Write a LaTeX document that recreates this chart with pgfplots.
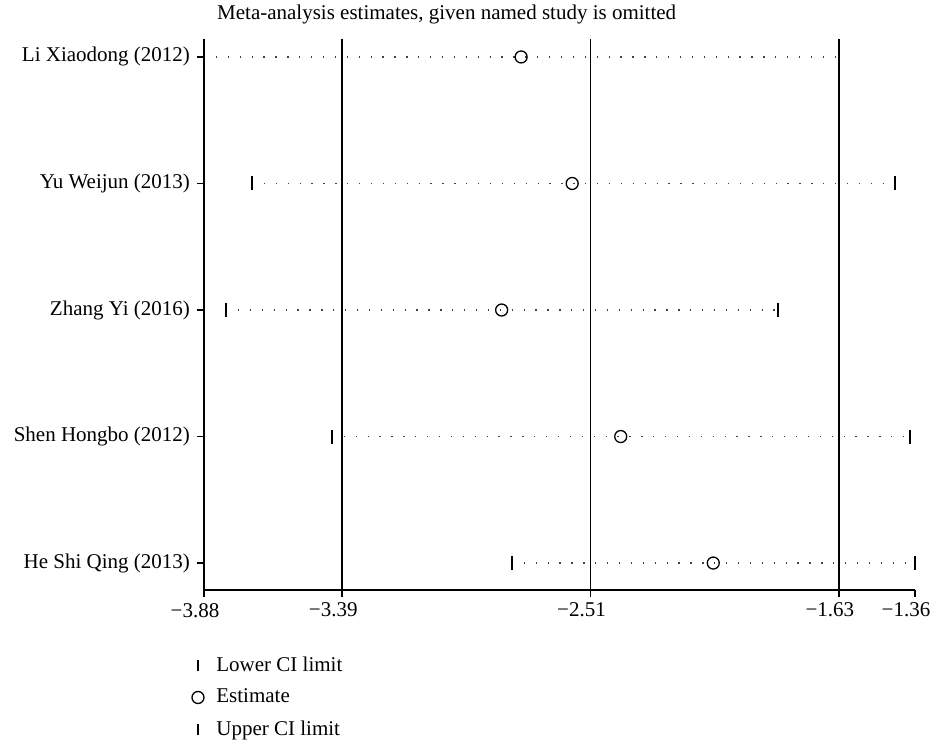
\documentclass[border=0pt]{standalone}
\usepackage{fontspec}
\setmainfont{Liberation Serif}
\usepackage{pgfplots}
\usepackage{pgfplotstable}
\pgfplotsset{compat=1.18}
\newcommand{\fs}{\fontsize{10.5}{12.6}\selectfont}
\pgfplotstableread{
y lo est hi
5 -3.88 -2.756 -1.63
4 -3.71 -2.575 -1.431
3 -3.802 -2.825 -1.845
2 -3.427 -2.403 -1.377
1 -2.789 -2.075 -1.36
}\data
\tikzset{dotline/.style={black!75, line width=0.65pt, dash pattern=on 0.65pt off 5.3pt}}
\pgfplotsset{
 barleg/.style={legend image code/.code={\draw[##1, mark size=2.6pt] plot coordinates {(0cm,0cm)}; \path (-3pt,0) (7pt,0);}},
 circleg/.style={legend image code/.code={\draw[##1] plot coordinates {(0cm,0cm)}; \path (-3pt,0) (7pt,0);}},
}
\begin{document}
\begin{tikzpicture}
\path[use as bounding box] (-102pt,295pt) rectangle ++(467pt,-370.5pt);
\begin{axis}[
 name=ax,
 at={(0,0)}, anchor=south west,
 scale only axis,
 width=355.5pt, height=275.5pt,
 xmin=-3.88, xmax=-1.36,
 ymin=0.787, ymax=5.142,
 axis x line*=bottom, axis y line*=left,
 axis line style={line width=0.8pt, -},
 xtick={-3.88,-3.39,-2.51,-1.63,-1.36},
 xticklabels={−3.88,−3.39,−2.51,−1.63,−1.36},
 ytick={1,2,3,4,5},
 yticklabels={He Shi Qing (2013), Shen Hongbo (2012), Zhang Yi (2016), Yu Weijun (2013), Li Xiaodong (2012)},
 tick align=outside,
 major tick length=3.5pt,
 tick style={line width=0.8pt, black},
 tick label style={font=\fs},
 x tick label style={yshift=0.5pt, xshift=-4.5pt},
 clip=false,
 legend style={draw=none, fill=none, font=\fs, at={(axis description cs:-0.018,-0.113)}, anchor=north west, row sep=3.4pt, inner sep=0pt},
 legend cell align=left,
]
\addplot[black, line width=0.8pt, forget plot] coordinates {(-3.39,0.787) (-3.39,5.142)};
\addplot[black, line width=0.8pt, forget plot] coordinates {(-2.51,0.787) (-2.51,5.142)};
\addplot[black, line width=0.8pt, forget plot] coordinates {(-1.63,0.787) (-1.63,5.142)};
\addplot[dotline, forget plot] coordinates {(-3.88,5) (-1.63,5)};
\addplot[dotline, forget plot] coordinates {(-3.71,4) (-1.431,4)};
\addplot[dotline, forget plot] coordinates {(-3.802,3) (-1.845,3)};
\addplot[dotline, forget plot] coordinates {(-3.427,2) (-1.377,2)};
\addplot[dotline, forget plot] coordinates {(-2.789,1) (-1.36,1)};
\addplot[only marks, mark=|, mark size=3.5pt, mark options={line width=0.7pt, black}, barleg]
  table[x=lo, y=y] {\data};
\addlegendentry{Lower CI limit}
\addplot[only marks, mark=o, mark size=3pt, mark options={line width=0.65pt, black, fill=white}, circleg]
  table[x=est, y=y] {\data};
\addlegendentry{Estimate}
\addplot[only marks, mark=|, mark size=3.5pt, mark options={line width=0.7pt, black}, barleg]
  table[x=hi, y=y] {\data};
\addlegendentry{Upper CI limit}
\node[font=\fs, anchor=base west, inner sep=0pt, yshift=9.5pt] at (rel axis cs:0.018,1) {Meta-analysis estimates, given named study is omitted};
\end{axis}
\end{tikzpicture}
\end{document}
